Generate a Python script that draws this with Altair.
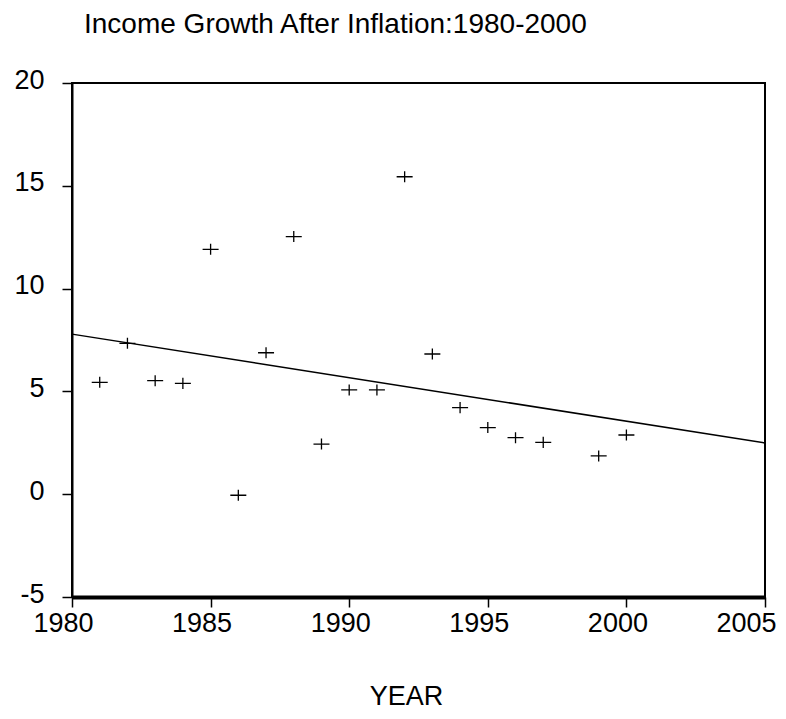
import altair as alt
import pandas as pd

years = [1981, 1982, 1983, 1984, 1985, 1986, 1987, 1988, 1989, 1990,
         1991, 1992, 1993, 1994, 1995, 1996, 1997, 1999, 2000]
growth = [5.44, 7.34, 5.52, 5.39, 11.91, -0.05, 6.88, 12.53, 2.44, 5.07,
          5.07, 15.44, 6.82, 4.21, 3.24, 2.75, 2.52, 1.86, 2.88]
x_ticks = [1980, 1985, 1990, 1995, 2000, 2005]
y_ticks = [-5, 0, 5, 10, 15, 20]
title_text = "Income Growth After Inflation:1980-2000"
x_title = "YEAR"

df = pd.DataFrame({"YEAR": years, "GROWTH": growth})
FONT = "Liberation Sans"

x_enc = alt.X(
    "YEAR:Q",
    scale=alt.Scale(domain=[1980, 2005], nice=False, zero=False),
    axis=alt.Axis(
        values=x_ticks, format="d", title=x_title, grid=False,
        domainColor="black", domainWidth=4,
        tickColor="black", tickWidth=1.5, tickSize=10,
        labelFont=FONT, labelFontSize=27, labelColor="black",
        labelPadding=3,
        labelOffset={"condition": {"test": "datum.value === 2005", "value": -19},
                     "value": -9},
        labelFlush=False, labelOverlap=False, labelBound=False,
        titleFont=FONT, titleFontSize=27, titleFontWeight="normal",
        titleColor="black", titleX=334, titleY=107,
        titleAlign="center", titleBaseline="alphabetic",
    ),
)
y_enc = alt.Y(
    "GROWTH:Q",
    scale=alt.Scale(domain=[-5, 20], nice=False, zero=False),
    axis=alt.Axis(
        values=y_ticks, title="", grid=False,
        labelExpr="datum.value < 0 ? '-' + abs(datum.value) : datum.label",
        domainColor="black", domainWidth=2,
        tickColor="black", tickWidth=1.5, tickSize=10,
        labelFont=FONT, labelFontSize=27, labelColor="black",
        labelPadding=18, labelOffset=-3, labelFlush=False,
        labelOverlap=False, labelBound=False,
    ),
)

base = alt.Chart(df)

points = base.mark_point(
    shape="M-1,0H1M0,-0.69V0.69", size=256, filled=False,
    stroke="black", strokeWidth=1.3, opacity=1,
).encode(x=x_enc, y=y_enc)

line = base.transform_regression(
    "YEAR", "GROWTH", extent=[1980, 2005]
).mark_line(color="black", strokeWidth=1.5).encode(
    x=alt.X("YEAR:Q"), y=alt.Y("GROWTH:Q")
)

chart = alt.layer(points, line).properties(
    width=693, height=514,
    padding={"left": 64, "top": 75, "right": 13, "bottom": 114},
    autosize=alt.AutoSizeParams(type="none"),
    title=alt.TitleParams(
        text=title_text, anchor="start", frame="group", dx=12,
        font=FONT, fontSize=28, fontWeight="normal", color="black",
        baseline="alphabetic", offset=5,
    ),
).configure_view(stroke="black", strokeWidth=2)

chart.save("out.html", embed_options={"renderer": "svg", "actions": False})
